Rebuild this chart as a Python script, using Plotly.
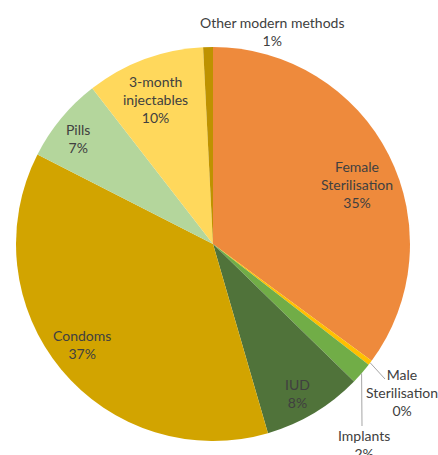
import math
import plotly.graph_objects as go

# ---- data ----
categories = ["Female Sterilisation", "Male Sterilisation", "Implants", "IUD",
              "Condoms", "Pills", "3-month injectables", "Other modern methods"]
values = [35.1, 0.4, 1.8, 8.2, 37.0, 7.0, 9.7, 0.8]
label_lines = [["Female", "Sterilisation", "35%"],
               ["Male", "Sterilisation", "0%"],
               ["Implants", "2%"],
               ["IUD", "8%"],
               ["Condoms", "37%"],
               ["Pills", "7%"],
               ["3-month", "injectables", "10%"],
               ["Other modern methods", "1%"]]
colors = ["#EE8A3C", "#FFC000", "#71AD47", "#50733A",
          "#D2A400", "#B4D69C", "#FFD85C", "#BE9200"]

# ---- layout geometry (pixels) ----
W, H = 438, 455
CX, CY, R = 213, 244, 197

# label placement: (radius factor, angle offset in degrees) relative to slice mid-angle
label_pos = {
    0: ("polar", 0.79, 4.5),
    1: ("abs", 402, 392),
    2: ("abs", 364, 444),
    3: ("polar", 0.87, 1.5),
    4: ("polar", 0.84, 2.0),
    5: ("polar", 0.87, -1.7),
    6: ("polar", 0.79, -1.4),
    7: ("abs", 272, 32),
}
leaders = {1: (385, 379), 2: (362, 426)}

def px2paper(x, y):
    return x / W, 1 - y / H

total = sum(values)
cum = 0
mids = []
for v in values:
    mids.append((cum + v / 2) / total * 360)
    cum += v

fig = go.Figure(go.Pie(
    labels=categories, values=values, sort=False, direction="clockwise",
    rotation=0, textinfo="none", hoverinfo="label+percent",
    marker=dict(colors=colors, line=dict(width=0)),
    domain=dict(x=[(CX - R) / W, (CX + R) / W],
                y=[1 - (CY + R) / H, 1 - (CY - R) / H]),
    showlegend=False,
))

annotations = []
shapes = []
for i, lines in enumerate(label_lines):
    spec = label_pos[i]
    if spec[0] == "polar":
        ang = math.radians(mids[i] + spec[2])
        x = CX + spec[1] * R * math.sin(ang)
        y = CY - spec[1] * R * math.cos(ang)
    else:
        x, y = spec[1], spec[2]
    px, py = px2paper(x, y)
    annotations.append(dict(
        x=px, y=py, xref="paper", yref="paper", showarrow=False,
        xanchor="center", yanchor="middle",
        text="<br>".join(lines), align="center",
        font=dict(family="Lato, Open Sans, sans-serif", size=14, color="#404040"),
    ))
    if i in leaders:
        ang = math.radians(mids[i])
        sx = CX + R * math.sin(ang)
        sy = CY - R * math.cos(ang)
        ex, ey = leaders[i]
        x0, y0 = px2paper(sx, sy)
        x1, y1 = px2paper(ex, ey)
        shapes.append(dict(type="line", xref="paper", yref="paper",
                           x0=x0, y0=y0, x1=x1, y1=y1,
                           line=dict(color="#A6A6A6", width=1)))

fig.update_layout(
    width=W, height=H, margin=dict(l=0, r=0, t=0, b=0),
    paper_bgcolor="white", plot_bgcolor="white",
    annotations=annotations, shapes=shapes,
)
fig.write_html("out.html", config={"displayModeBar": False})

# remove default page margin so the figure sits at the window origin
with open("out.html", "r", encoding="utf-8") as f:
    html = f.read()
html = html.replace("<head>", "<head><style>html,body{margin:0;padding:0;overflow:hidden;}</style>", 1)
with open("out.html", "w", encoding="utf-8") as f:
    f.write(html)
